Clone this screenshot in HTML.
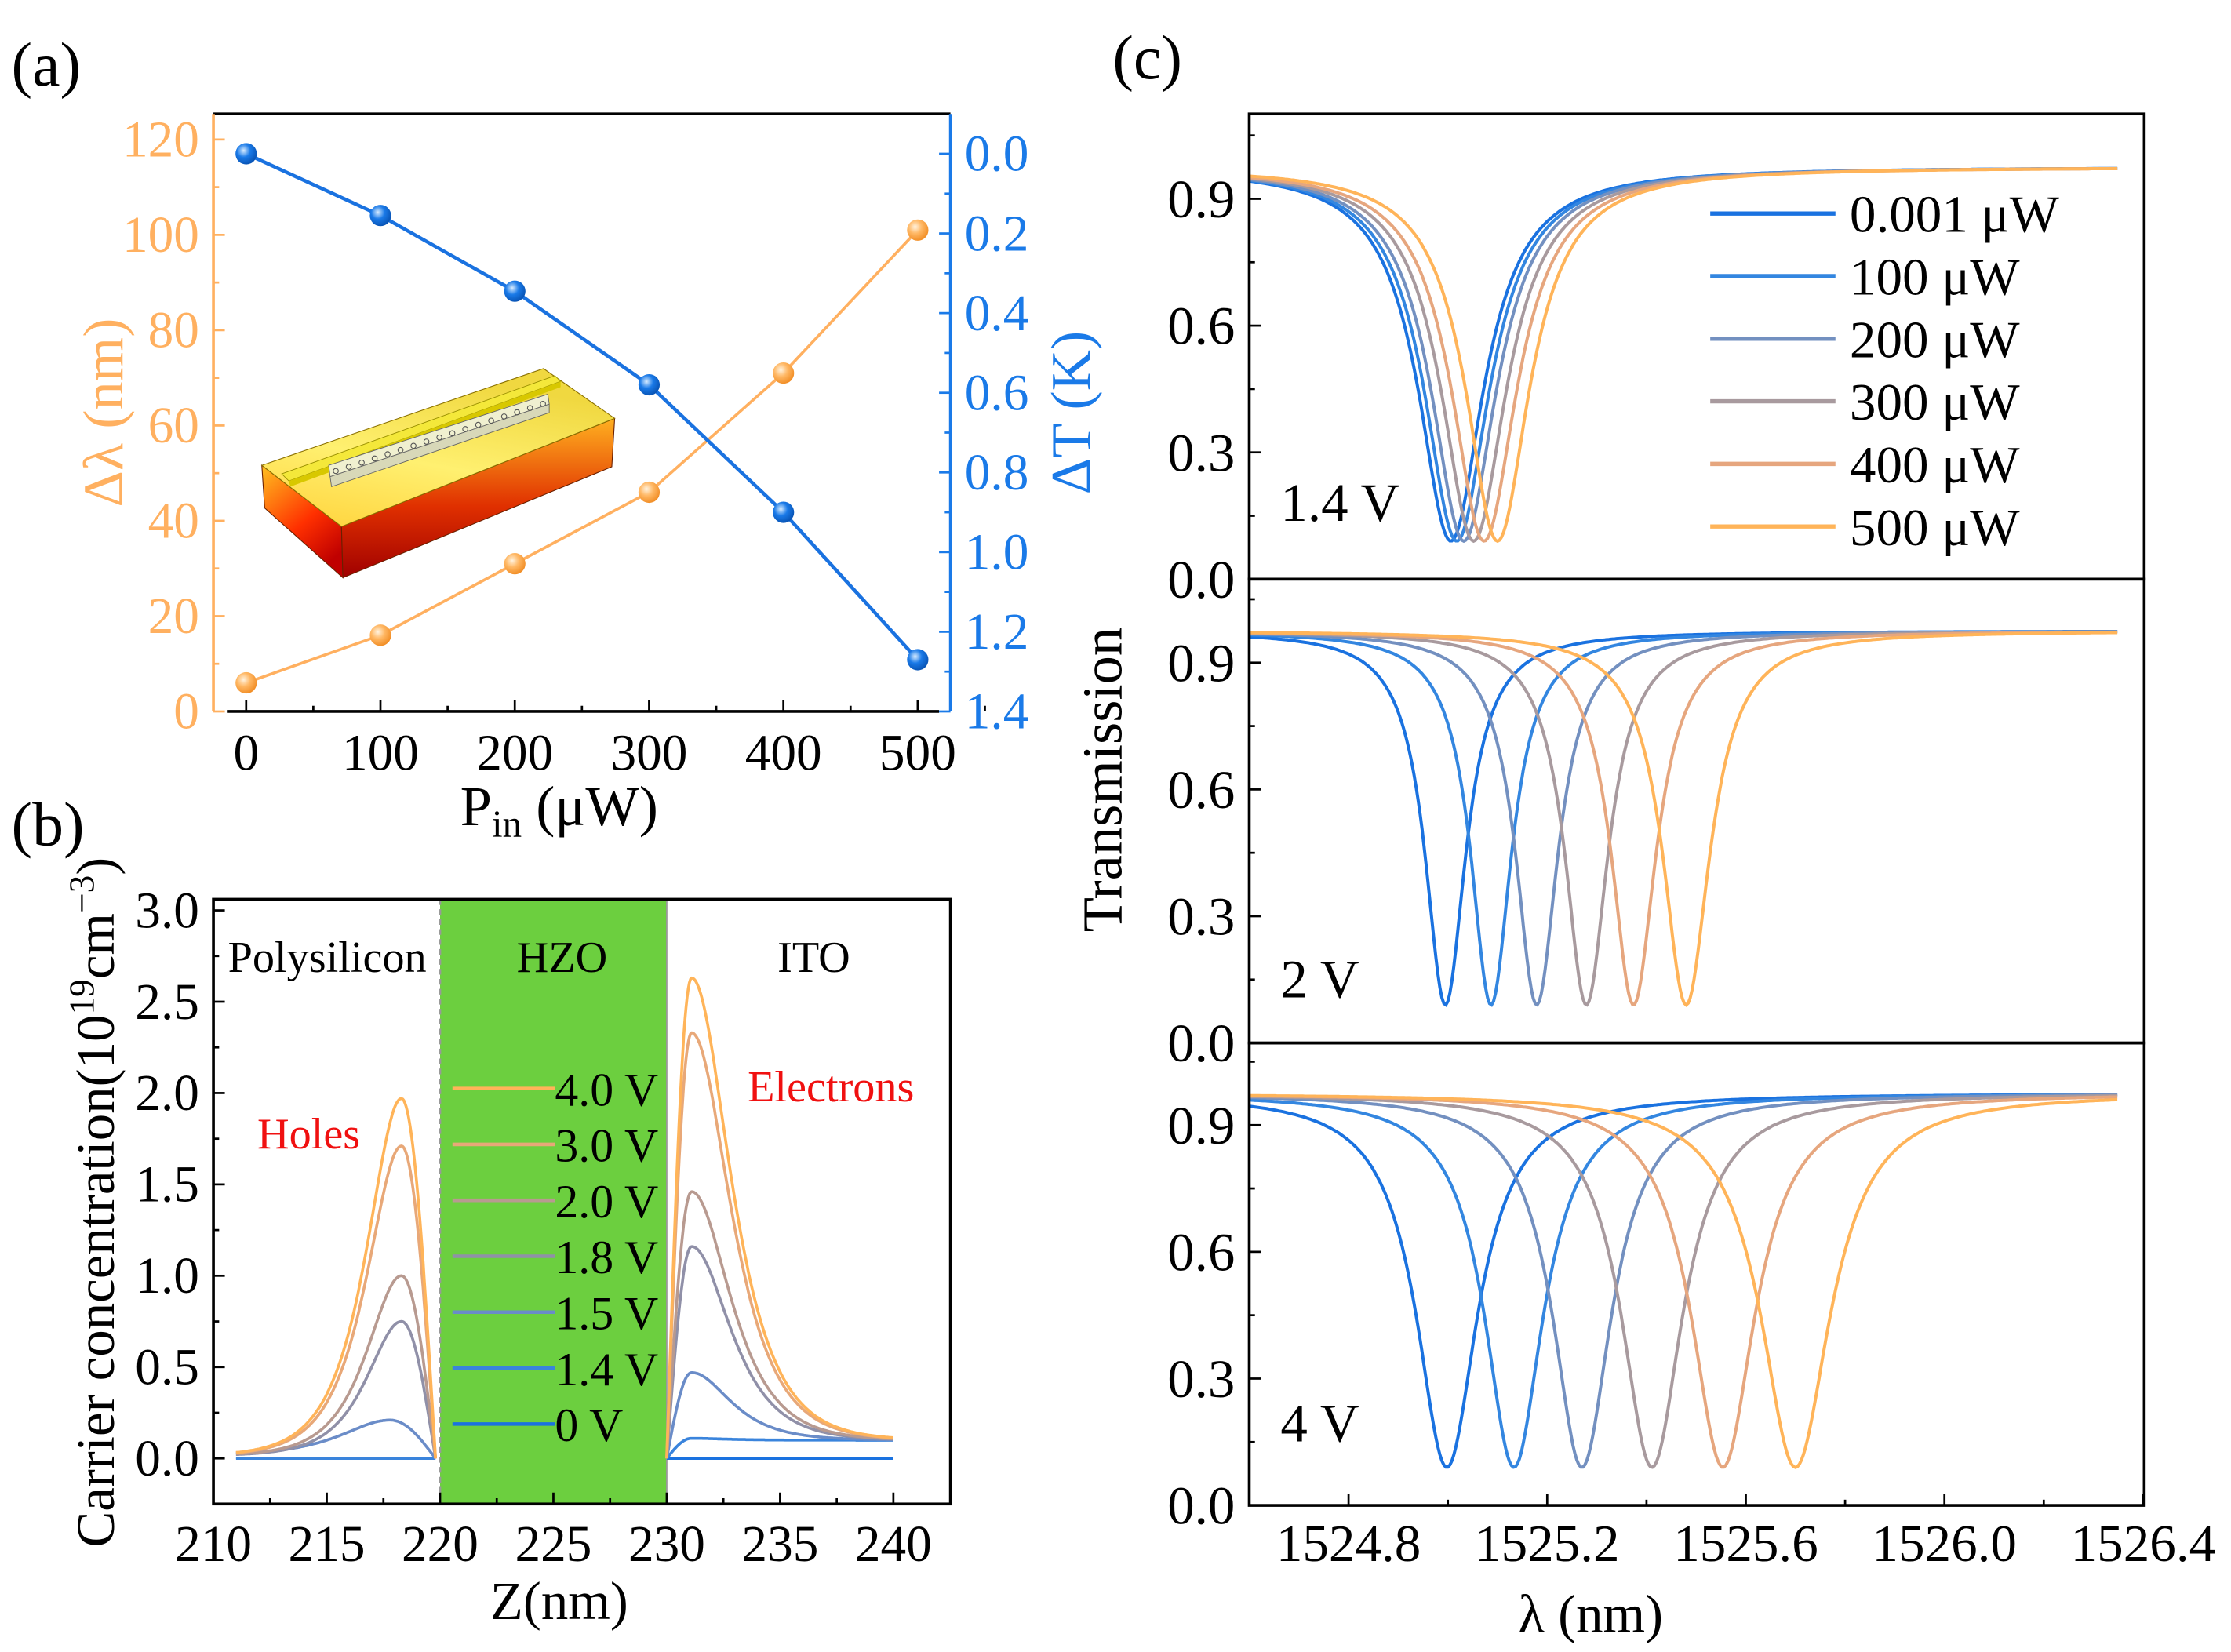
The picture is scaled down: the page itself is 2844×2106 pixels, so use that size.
<!DOCTYPE html>
<html><head><meta charset="utf-8">
<style>
html,body{margin:0;padding:0;background:#fff;}
svg{display:block;font-family:"Liberation Serif",serif;}
</style></head>
<body>
<svg id="fig" width="2844" height="2106" viewBox="0 0 1568 1161" xmlns="http://www.w3.org/2000/svg">
<defs>
<radialGradient id="ballO" cx="0.38" cy="0.35" r="0.7"><stop offset="0" stop-color="#fff3e0"/><stop offset="0.45" stop-color="#ffb865"/><stop offset="1" stop-color="#f08a20"/></radialGradient>
<radialGradient id="ballB" cx="0.38" cy="0.35" r="0.7"><stop offset="0" stop-color="#d8ecff"/><stop offset="0.45" stop-color="#1a7ae8"/><stop offset="1" stop-color="#0650b0"/></radialGradient>
<linearGradient id="topF" x1="0" y1="1" x2="0.4" y2="0"><stop offset="0" stop-color="#ffd23a"/><stop offset="0.5" stop-color="#fff070"/><stop offset="1" stop-color="#f0d840"/></linearGradient>
<linearGradient id="leftF" x1="0" y1="0" x2="0.6" y2="1"><stop offset="0" stop-color="#ffc020"/><stop offset="0.6" stop-color="#ff3000"/><stop offset="1" stop-color="#c00000"/></linearGradient>
<linearGradient id="rightF" x1="0" y1="0" x2="0" y2="1"><stop offset="0" stop-color="#ffb020"/><stop offset="0.55" stop-color="#e03000"/><stop offset="1" stop-color="#a00000"/></linearGradient>
</defs>
<g id="root"></g>
</svg>
<script>
// ---------- Panel (a) data ----------
const powerA = [0, 100, 200, 300, 400, 500];
const dLambda = [6, 16, 31, 46, 71, 101];
const dTemp = [0, 0.155, 0.345, 0.58, 0.9, 1.27];
const aXTicks = [0, 100, 200, 300, 400, 500];
const aYLeftTicks = [0, 20, 40, 60, 80, 100, 120];
const aYRightTicks = ["0.0","0.2","0.4","0.6","0.8","1.0","1.2","1.4"];
// ---------- Panel (b) data ----------
const voltsB = ["0 V","1.4 V","1.5 V","1.8 V","2.0 V","3.0 V","4.0 V"];
const holePeak = [0, 0, 0.21, 0.75, 1.0, 1.71, 1.97];
const elecPeak = [0, 0.11, 0.47, 1.16, 1.46, 2.33, 2.63];
const bXTicks = [210, 215, 220, 225, 230, 235, 240];
const bYTicks = ["0.0","0.5","1.0","1.5","2.0","2.5","3.0"];
// ---------- Panel (c) data ----------
const powerLabels = ["0.001 μW","100 μW","200 μW","300 μW","400 μW","500 μW"];
const dip14 = [1525.006, 1525.018, 1525.032, 1525.052, 1525.073, 1525.100];
const dip2 = [1524.995, 1525.087, 1525.179, 1525.279, 1525.374, 1525.480];
const dip4 = [1524.998, 1525.133, 1525.270, 1525.411, 1525.554, 1525.700];
const wid14 = [0.08, 0.08, 0.08, 0.08, 0.08, 0.078];
const wid2 = [0.05, 0.05, 0.052, 0.053, 0.055, 0.058];
const wid4 = [0.075, 0.072, 0.072, 0.075, 0.078, 0.085];
const dipMin = [0.09, 0.09, 0.09, 0.09, 0.09, 0.09];
const cXTicks = ["1524.8","1525.2","1525.6","1526.0","1526.4"];
const cYTicks = ["0.0","0.3","0.6","0.9"];

const NS = "http://www.w3.org/2000/svg";
const root = document.getElementById('root');
function el(tag, attrs, parent, text) {
  const e = document.createElementNS(NS, tag);
  for (const k in attrs) e.setAttribute(k, attrs[k]);
  if (text !== undefined) e.textContent = text;
  (parent || root).appendChild(e);
  return e;
}
const C6 = ['#1a72e0','#3386e0','#7390c0','#a89a9e','#e6a67e','#ffb459'];
const C7 = ['#1a72e0','#3a84dc','#6a8cc8','#9090a8','#b89a90','#e8a878','#ffb459'];

// ================= (a) =================
let t;
t = el('text',{x:8,y:60,'font-size':44},root,'(a)');
 
const aL=150,aR=668,aT=80,aB=500;
const ax = v => 173 + (v/100)*94.4;
const ayL = v => 500 - v*3.35;
const ayR = v => 108 + v*280;
const gA = el('g',{});
 
el('line',{x1:aL,y1:aT,x2:aR,y2:aT,stroke:'#000','stroke-width':2},gA);
el('line',{x1:aL+10,y1:aB,x2:aR-8,y2:aB,stroke:'#000','stroke-width':2},gA);
let e = el('line',{x1:aL,y1:aT,x2:aL,y2:aB,stroke:'#ffb060','stroke-width':2},gA);
 
e = el('line',{x1:aR,y1:aT,x2:aR,y2:aB,stroke:'#1a7ae8','stroke-width':2},gA);
 
aXTicks.forEach((v,i)=>{
  el('line',{x1:ax(v),y1:aB,x2:ax(v),y2:aB-8,stroke:'#000','stroke-width':1.5},gA);
  el('line',{x1:ax(v)+47.2,y1:aB,x2:ax(v)+47.2,y2:aB-4,stroke:'#000','stroke-width':1.5},gA);
  const tt = el('text',{x:ax(v),y:541,'font-size':36,'text-anchor':'middle'},gA,String(v));
   
});
aYLeftTicks.forEach(v=>{
  el('line',{x1:aL,y1:ayL(v),x2:aL+8,y2:ayL(v),stroke:'#ffb060','stroke-width':1.5},gA);
  if (v<120) el('line',{x1:aL,y1:ayL(v+10),x2:aL+4,y2:ayL(v+10),stroke:'#ffb060','stroke-width':1.5},gA);
  const tt = el('text',{x:140,y:ayL(v)+12,'font-size':36,'text-anchor':'end',fill:'#ffb060'},gA,String(v));
   
});
aYRightTicks.forEach(s=>{
  const v=parseFloat(s);
  el('line',{x1:aR,y1:ayR(v),x2:aR-8,y2:ayR(v),stroke:'#1a7ae8','stroke-width':1.5},gA);
  if (v<1.4) el('line',{x1:aR,y1:ayR(v+0.1),x2:aR-4,y2:ayR(v+0.1),stroke:'#1a7ae8','stroke-width':1.5},gA);
  const tt = el('text',{x:678,y:ayR(v)+12,'font-size':36,fill:'#1a7ae8'},gA,s);
   
});
t = el('text',{x:0,y:0,'font-size':40,fill:'#ffb060','text-anchor':'middle',transform:'translate(86,290) rotate(-90)'},gA,'Δλ (nm)');
 
t = el('text',{x:0,y:0,'font-size':40,fill:'#1a7ae8','text-anchor':'middle',transform:'translate(766,290) rotate(-90)'},gA,'ΔT (K)');
 
t = el('text',{x:393,y:580,'font-size':40,'text-anchor':'middle'},gA);
 
el('tspan',{},t,'P');
el('tspan',{'font-size':27,dy:8},t,'in');
el('tspan',{dy:-8},t,' (μW)');

// inset 3D device
const ins = el('g',{});
 
el('polygon',{points:'184,327 240,370 241,406 186,357',fill:'url(#leftF)',stroke:'#6a2000','stroke-width':0.6},ins);
el('polygon',{points:'240,370 432,294 430,328 241,406',fill:'url(#rightF)',stroke:'#6a2000','stroke-width':0.6},ins);
el('polygon',{points:'184,327 382,259 432,294 240,370',fill:'url(#topF)',stroke:'#8a7000','stroke-width':0.6},ins);
el('polygon',{points:'198,333 390,264 394,268 203,338',fill:'#f4e83a',stroke:'#9a9000','stroke-width':0.5},ins);
el('polygon',{points:'203,338 394,268 394,272 204,342',fill:'#d8c800'},ins);
el('polygon',{points:'231,327 385,277 386,284 232,335',fill:'#f0f0d0',stroke:'#666','stroke-width':0.5},ins);
el('polygon',{points:'232,335 386,284 386,290 233,342',fill:'#d8d8b8',stroke:'#666','stroke-width':0.5},ins);
for(let k=0;k<17;k++){
  const hx=236+k*9.1, hy=331-k*2.95;
  el('circle',{cx:hx,cy:hy,r:1.8,fill:'none',stroke:'#555','stroke-width':0.6},ins);
}
// series
const pA1 = powerA.map((p,i)=>ax(p)+','+ayL(dLambda[i])).join(' ');
e = el('polyline',{points:pA1,fill:'none',stroke:'#ffb060','stroke-width':2},gA);
 
const pA2 = powerA.map((p,i)=>ax(p)+','+ayR(dTemp[i])).join(' ');
e = el('polyline',{points:pA2,fill:'none',stroke:'#1a72e0','stroke-width':2.5},gA);
 
powerA.forEach((p,i)=>{
  let c = el('circle',{cx:ax(p),cy:ayL(dLambda[i]),r:7.5,fill:'url(#ballO)'},gA);
   
  c = el('circle',{cx:ax(p),cy:ayR(dTemp[i]),r:7.5,fill:'url(#ballB)'},gA);
   
});

// ================= (b) =================
t = el('text',{x:8,y:594,'font-size':44},root,'(b)');
 
const bL=150,bR=668,bT=632,bB=1057;
const bx = z => 150 + (z-210)*15.93;
const by = v => 1025 - v*128.4;
const gB = el('g',{});
 
e = el('rect',{x:bx(220),y:bT,width:bx(230)-bx(220),height:bB-bT,fill:'#6ccf3f'},gB);
 
el('line',{x1:bx(220),y1:bT,x2:bx(220),y2:bB,stroke:'#999','stroke-width':1.5,'stroke-dasharray':'4,3'},gB);
el('line',{x1:bx(230),y1:bT,x2:bx(230),y2:bB,stroke:'#999','stroke-width':1},gB);
el('rect',{x:bL,y:bT,width:bR-bL,height:bB-bT,fill:'none',stroke:'#000','stroke-width':2},gB);
bXTicks.forEach(v=>{
  el('line',{x1:bx(v),y1:bB,x2:bx(v),y2:bB-8,stroke:'#000','stroke-width':1.5},gB);
  if(v<240) el('line',{x1:bx(v+2.5),y1:bB,x2:bx(v+2.5),y2:bB-4,stroke:'#000','stroke-width':1.5},gB);
  const tt = el('text',{x:bx(v),y:1097,'font-size':36,'text-anchor':'middle'},gB,String(v));
   
});
bYTicks.forEach(s=>{
  const v=parseFloat(s);
  el('line',{x1:bL,y1:by(v),x2:bL+8,y2:by(v),stroke:'#000','stroke-width':1.5},gB);
  if(v<3) el('line',{x1:bL,y1:by(v+0.25),x2:bL+4,y2:by(v+0.25),stroke:'#000','stroke-width':1.5},gB);
  const tt = el('text',{x:140,y:by(v)+12,'font-size':36,'text-anchor':'end'},gB,s);
   
});
t = el('text',{x:0,y:0,'font-size':38,'text-anchor':'middle',transform:'translate(80,845) rotate(-90)'},gB);
 
el('tspan',{},t,'Carrier concentration(10');
el('tspan',{'font-size':25,dy:-14},t,'19');
el('tspan',{dy:14},t,'cm');
el('tspan',{'font-size':25,dy:-14},t,'−3');
el('tspan',{dy:14},t,')');
t = el('text',{x:393,y:1138,'font-size':38,'text-anchor':'middle'},gB,'Z(nm)');
 
[['Polysilicon',230,'#000','region-label-polysilicon'],['HZO',395,'#000','region-label-hzo'],['ITO',572,'#000','region-label-ito']].forEach(a=>{
  const tt=el('text',{x:a[1],y:683,'font-size':31,'text-anchor':'middle',fill:a[2]},gB,a[0]);
   
});
t = el('text',{x:217,y:807,'font-size':31,'text-anchor':'middle',fill:'#f01010'},gB,'Holes');
 
t = el('text',{x:584,y:774,'font-size':31,'text-anchor':'middle',fill:'#f01010'},gB,'Electrons');
 
function holeVal(p,z){
  if (p===0) return 0;
  const zp = p<0.3 ? 217.8 : 218.3;
  const s = p<0.3 ? 1.9 : 1.35;
  if (z<=zp) return 0.015 + (p-0.015)/Math.cosh((zp-z)/s);
  const f=(z-zp)/(219.8-zp); return f<1? p*Math.cos(f*Math.PI/2):0;
}
function elecVal(p,z){
  if (p===0) return 0;
  if (z<230) return 0;
  const zp=231.1;
  if (z<zp){const f=(z-230)/(zp-230); return p*Math.sin(f*Math.PI/2);}
  return (p-0.1)/Math.cosh((z-zp)/(p<0.3?1.3:1.5))+0.1;
}
for(let i=0;i<voltsB.length;i++){
  let pts=[];
  for(let z=211;z<=219.81;z+=0.05) pts.push(bx(z).toFixed(1)+','+by(holeVal(holePeak[i],z)).toFixed(1));
  let pl=el('polyline',{points:pts.join(' '),fill:'none',stroke:C7[i],'stroke-width':i===0?1:2,'stroke-linejoin':'round'},gB);
  
  
  pts=[];
  for(let z=230;z<=240.01;z+=0.05) pts.push(bx(z).toFixed(1)+','+by(elecVal(elecPeak[i],z)).toFixed(1));
  pl=el('polyline',{points:pts.join(' '),fill:'none',stroke:C7[i],'stroke-width':2,'stroke-linejoin':'round'},gB);
  
  
}
for(let i=voltsB.length-1;i>=0;i--){
  const yy = 765 + (voltsB.length-1-i)*39.3;
  const lg = el('g',{},gB);
   
  el('line',{x1:318,y1:yy,x2:390,y2:yy,stroke:C7[i],'stroke-width':2.5},lg);
  el('text',{x:390,y:yy+12,'font-size':33},lg,voltsB[i]);
}

// ================= (c) =================
t = el('text',{x:782,y:55,'font-size':44},root,'(c)');
 
const cL=878,cR=1507;
const cx = l => 878 + (l-1524.6)*349;
const panels = [
  {top:80,zero:407,dips:dip14,w:wid14,label:'1.4 V',ly:366},
  {top:407,zero:733,dips:dip2,w:wid2,label:'2 V',ly:701},
  {top:733,zero:1058,dips:dip4,w:wid4,label:'4 V',ly:1013}
];
const gC = el('g',{});
 
panels.forEach((P,pi)=>{
  const cy = v => P.zero - v*297;
  const sg = el('g',{},gC);
  
  
  cYTicks.forEach(s=>{
    const v=parseFloat(s);
    el('line',{x1:cL,y1:cy(v),x2:cL+8,y2:cy(v),stroke:'#000','stroke-width':1.5},sg);
    el('line',{x1:cL,y1:cy(v+0.15),x2:cL+4,y2:cy(v+0.15),stroke:'#000','stroke-width':1.5},sg);
    const tt=el('text',{x:868,y:cy(v)+13,'font-size':38,'text-anchor':'end'},sg,s);
     
  });
  for(let i=0;i<6;i++){
    const pts=[];
    for(let l=1524.6;l<=1526.35;l+=0.004){
      const d=(l-P.dips[i])/P.w[i];
      const T=0.975-(0.975-dipMin[i])/(1+d*d);
      pts.push(cx(l).toFixed(1)+','+cy(T).toFixed(1));
    }
    const pl=el('polyline',{points:pts.join(' '),fill:'none',stroke:C6[i],'stroke-width':2.2},sg);
    
    
  }
  const lt=el('text',{x:900,y:P.ly,'font-size':38},sg,P.label);
   
  el('rect',{x:cL,y:P.top,width:cR-cL,height:P.zero-P.top,fill:'none',stroke:'#000','stroke-width':2},sg);
});
cXTicks.forEach(s=>{
  const v=parseFloat(s);
  el('line',{x1:cx(v),y1:1058,x2:cx(v),y2:1050,stroke:'#000','stroke-width':1.5},gC);
  if(v<1526.4) el('line',{x1:cx(v+0.2),y1:1058,x2:cx(v+0.2),y2:1054,stroke:'#000','stroke-width':1.5},gC);
  const tt=el('text',{x:cx(v),y:1097,'font-size':37,'text-anchor':'middle'},gC,s);
   
});
el('line',{x1:cx(1524.6),y1:1058,x2:cx(1524.6),y2:1054,stroke:'#000','stroke-width':1.5},gC);
t = el('text',{x:0,y:0,'font-size':40,'text-anchor':'middle',transform:'translate(788,548) rotate(-90)'},gC,'Transmission');
 
t = el('text',{x:1118,y:1147,'font-size':38,'text-anchor':'middle'},gC,'λ (nm)');
 
for(let i=0;i<6;i++){
  const yy=150+i*44;
  const lg=el('g',{},gC);
   
  el('rect',{x:1196,y:yy-20,width:290,height:40,fill:'#fff'},lg);
  el('line',{x1:1202,y1:yy,x2:1290,y2:yy,stroke:C6[i],'stroke-width':3},lg);
  el('text',{x:1300,y:yy+13,'font-size':37},lg,powerLabels[i]);
}
</script>
</body></html>
